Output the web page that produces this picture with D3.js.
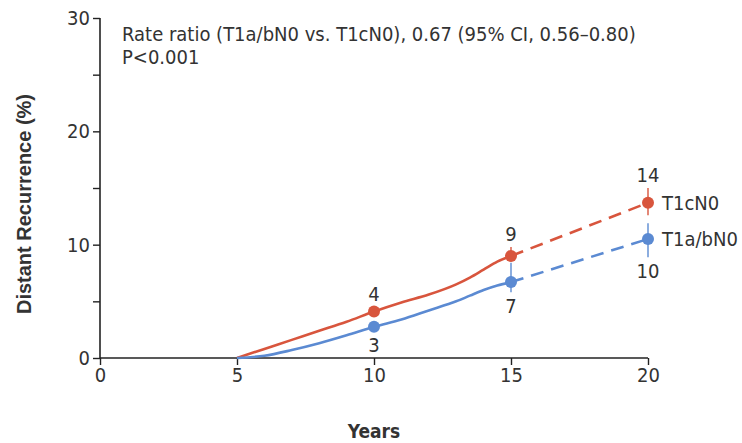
<!DOCTYPE html>
<html>
<head>
<meta charset="utf-8">
<script src="https://cdn.jsdelivr.net/npm/d3@7"></script>
<style>
  body { margin: 0; background: #fff; }
  svg { display: block; }
</style>
</head>
<body>
<div id="chart"></div>
<script>
// observed follow-up, solid part of each curve
var curveYears = [5, 6, 7, 8, 9, 10, 11, 12, 13, 13.5, 14, 14.5, 15];
var t1cCurve   = [0, 0.8, 1.6, 2.4, 3.2, 4.1, 4.9, 5.6, 6.5, 7.1, 7.8, 8.5, 9.0];
var t1abCurve  = [0, 0.2, 0.7, 1.3, 2.0, 2.75, 3.4, 4.2, 5.0, 5.5, 6.0, 6.4, 6.7];

// marked estimates at 10, 15, 20 years
var markYears = [10, 15, 20];
var t1cMarks  = [4.1, 9.0, 13.7];
var t1abMarks = [2.75, 6.7, 10.5];
var t1cLow    = [3.7, 8.6, 12.6];
var t1cHigh   = [4.5, 9.8, 15.0];
var t1abLow   = [2.4, 5.8, 8.9];
var t1abHigh  = [3.1, 8.4, 11.9];
var t1cText   = ["4", "9", "14"];
var t1abText  = ["3", "7", "10"];

var xTicks = [0, 5, 10, 15, 20];
var yTicks = [0, 5, 10, 15, 20, 25, 30];
var yLabels = [0, 10, 20, 30];

var red = "#d8553d", blue = "#5b8ad2";
var narrow = "'Liberation Sans Narrow', 'DejaVu Sans Condensed', 'Liberation Sans', sans-serif";

var W = 742, H = 443;
var margin = { top: 18, right: 94, bottom: 85, left: 100 },
    width = W - margin.left - margin.right,
    height = H - margin.top - margin.bottom;

var svg = d3.select("#chart").append("svg")
    .attr("width", W)
    .attr("height", H);

var g = svg.append("g")
    .attr("transform", "translate(" + margin.left + "," + margin.top + ")");

var x = d3.scaleLinear().domain([0, 20]).range([0, width]);
var y = d3.scaleLinear().domain([0, 30]).range([height, 0]);

// axes
var xAxis = g.append("g")
    .attr("transform", "translate(0," + height + ")")
    .call(d3.axisBottom(x).tickValues(xTicks).tickSize(7).tickPadding(3));

var yAxis = g.append("g")
    .call(d3.axisLeft(y).tickValues(yTicks).tickSize(7).tickPadding(3)
        .tickFormat(function (d) { return yLabels.indexOf(d) >= 0 ? d : ""; }));

[xAxis, yAxis].forEach(function (a) {
    a.select(".domain").attr("stroke", "#222").attr("stroke-width", 1.6);
    a.selectAll(".tick line").attr("stroke", "#222").attr("stroke-width", 1.4);
    a.selectAll(".tick text")
        .attr("fill", "#333")
        .style("font-family", narrow)
        .style("font-size", "20px");
});
yAxis.select(".domain").attr("d", "M0," + height + "V0");
xAxis.select(".domain").attr("d", "M0,0H" + width);

// axis titles
svg.append("text")
    .attr("transform", "translate(31," + 204 + ") rotate(-90)")
    .attr("text-anchor", "middle")
    .style("font-family", "'Liberation Sans', Arial, sans-serif")
    .style("font-weight", "bold")
    .style("font-size", "20px")
    .attr("fill", "#333")
    .text("Distant Recurrence (%)");

svg.append("text")
    .attr("x", margin.left + x(10))
    .attr("y", 438)
    .attr("text-anchor", "middle")
    .style("font-family", narrow)
    .style("font-weight", "bold")
    .style("font-size", "19px")
    .attr("fill", "#333")
    .text("Years");

// annotation
var note = g.append("text")
    .attr("x", 22)
    .style("font-family", narrow)
    .style("font-size", "20px")
    .attr("fill", "#333");
note.append("tspan").attr("x", 22).attr("y", 23)
    .text("Rate ratio (T1a/bN0 vs. T1cN0), 0.67 (95% CI, 0.56\u20130.80)");
note.append("tspan").attr("x", 22).attr("y", 46)
    .text("P<0.001");

var line = d3.line()
    .x(function (d) { return x(d[0]); })
    .y(function (d) { return y(d[1]); })
    .curve(d3.curveMonotoneX);

var series = [
    { name: "T1cN0", color: red, curve: t1cCurve, marks: t1cMarks, lo: t1cLow, hi: t1cHigh, text: t1cText, above: true },
    { name: "T1a/bN0", color: blue, curve: t1abCurve, marks: t1abMarks, lo: t1abLow, hi: t1abHigh, text: t1abText, above: false }
];

series.forEach(function (s) {
    var pts = curveYears.map(function (yr, i) { return [yr, s.curve[i]]; });
    g.append("path")
        .attr("d", line(pts))
        .attr("fill", "none")
        .attr("stroke", s.color)
        .attr("stroke-width", 2.6);

    // projected part
    g.append("path")
        .attr("d", line([[markYears[1], s.marks[1]], [markYears[2], s.marks[2]]]))
        .attr("fill", "none")
        .attr("stroke", s.color)
        .attr("stroke-width", 2.6)
        .attr("stroke-dasharray", "13,8");

    // error bars
    g.selectAll(null).data(markYears).enter().append("line")
        .attr("x1", function (d) { return x(d); })
        .attr("x2", function (d) { return x(d); })
        .attr("y1", function (d, i) { return y(s.lo[i]); })
        .attr("y2", function (d, i) { return y(s.hi[i]); })
        .attr("stroke", s.color)
        .attr("stroke-width", 1.4);

    g.selectAll(null).data(markYears).enter().append("circle")
        .attr("cx", function (d) { return x(d); })
        .attr("cy", function (d, i) { return y(s.marks[i]); })
        .attr("r", 6)
        .attr("fill", s.color);

    g.selectAll(null).data(markYears).enter().append("text")
        .attr("x", function (d) { return x(d); })
        .attr("y", function (d, i) {
            return s.above ? y(s.hi[i]) - 6 : y(s.lo[i]) + 21;
        })
        .attr("text-anchor", "middle")
        .style("font-family", narrow)
        .style("font-size", "20px")
        .attr("fill", "#333")
        .text(function (d, i) { return s.text[i]; });

    g.append("text")
        .attr("x", x(20) + 14)
        .attr("y", y(s.marks[2]) + 7)
        .style("font-family", narrow)
        .style("font-size", "20px")
        .attr("fill", "#333")
        .text(s.name);
});
</script>
</body>
</html>
